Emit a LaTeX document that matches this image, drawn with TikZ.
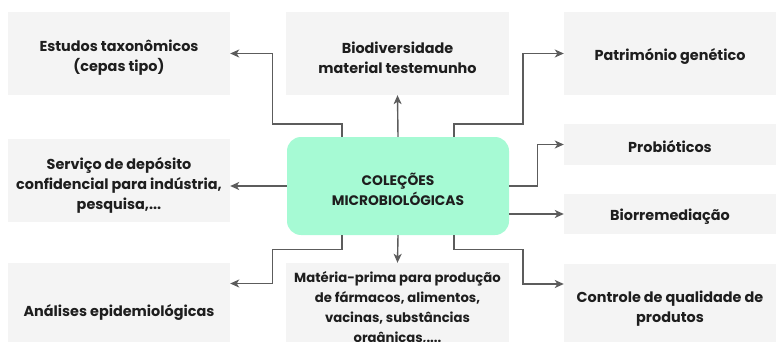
\documentclass[tikz,border=0pt]{standalone}
\usepackage{fontspec}
\setmainfont{Poppins}
\usetikzlibrary{arrows.meta}

\definecolor{boxgray}{HTML}{F4F4F4}
\definecolor{mint}{HTML}{A6FAD4}
\definecolor{linegray}{HTML}{5C5C5C}
\definecolor{ink}{HTML}{1E1E1E}

\begin{document}
\begin{tikzpicture}[
  x=1pt, y=-1pt,
  font=\bfseries\fontsize{14.4}{20}\selectfont,
  app/.style={fill=boxgray, inner sep=0pt, minimum height=83pt},
  lapp/.style={app, minimum width=222pt},
  mapp/.style={app, minimum width=223pt},
  rapp/.style={app, minimum width=212pt},
  core/.style={
    fill=mint, rounded corners=14pt,
    minimum width=222pt, minimum height=98pt, inner sep=0pt
  },
  txt/.style={align=center, text=ink, inner sep=0pt},
  arr/.style={-{Stealth[length=9pt, width=8pt, inset=2.5pt]},
    line width=1.4pt, draw=linegray},
]
\useasboundingbox (0,0) rectangle (778,342);

% =========================== boxes ========================================
\node[core] (centre) at (398, 186) {};

\node[lapp] (estudos)  at (119, 53.5)  {};
\node[lapp] (servico)  at (119, 180)   {};
\node[lapp] (analises) at (119, 304.5) {};

\node[mapp] (bio)     at (397.5, 53.5)  {};
\node[mapp] (materia) at (397.5, 304.5) {};

\node[rapp] (patri)    at (670, 53.5) {};
\node[rapp, minimum height=41pt] (probio)  at (670, 144.5) {};
\node[rapp, minimum height=40pt] (biorrem) at (670, 214)   {};
\node[rapp] (controle) at (670, 305) {};

% =========================== texts ========================================
\node[txt, font=\bfseries\fontsize{13.8}{20}\selectfont] at (398, 189)
  {COLEÇÕES\\MICROBIOLÓGICAS};
\node[txt] at (119, 58) {Estudos taxonômicos\\(cepas tipo)};
\node[txt] at (119, 185)
  {Serviço de depósito\\confidencial para indústria,\\pesquisa,...};
\node[txt] at (119, 312) {Análises epidemiológicas};
\node[txt] at (397.5, 58) {Biodiversidade\\material testemunho};
\node[txt, font=\bfseries\fontsize{13.2}{20}\selectfont] at (397.5, 309)
  {Matéria-prima para produção\\de fármacos, alimentos,\\vacinas, substâncias\\orgânicas,....};
\node[txt] at (670, 56.5) {Património genético};
\node[txt] at (670, 147) {Probióticos};
\node[txt] at (670, 217) {Biorremediação};
\node[txt] at (670, 309) {Controle de qualidade de\\produtos};

% =========================== connectors ===================================
\draw[arr] ([xshift=-56pt]centre.north) -- ++(0,-13)
  -| ([xshift=42pt]estudos.east) -- (estudos.east);
\draw[arr] (centre.north) -- (bio.south);
\draw[arr] ([xshift=56pt]centre.north) -- ++(0,-13)
  -| ([xshift=-41pt]patri.west) -- (patri.west);
\draw[arr] (centre.east) -- ++(28,0) |- (probio.west);
\draw[arr] (centre.west) -- (centre.west -| servico.east);
\draw[arr] (biorrem.west -| centre.east) -- (biorrem.west);
\draw[arr] ([xshift=56pt]centre.south) -- ++(0,14)
  -| ([xshift=-41pt, yshift=21pt]controle.west) -- ([yshift=21pt]controle.west);
\draw[arr] (centre.south) -- (materia.north);
\draw[arr] ([xshift=-56pt]centre.south) -- ++(0,14)
  -| ([xshift=42pt, yshift=21pt]analises.east) -- ([yshift=21pt]analises.east);

\end{tikzpicture}
\end{document}
